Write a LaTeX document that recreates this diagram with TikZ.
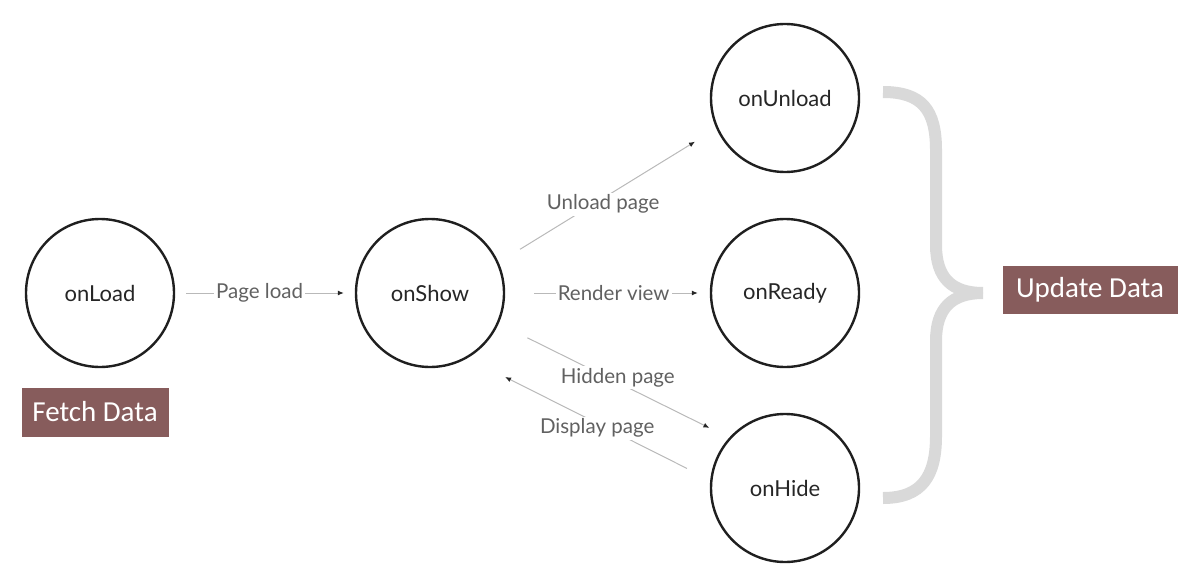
\documentclass[tikz,border=0pt]{standalone}
\usepackage{fontspec}
\setmainfont{Lato}
\newfontfamily\tagfont{Carlito}
\usepackage{tikz}
\usetikzlibrary{arrows.meta}
\usetikzlibrary{positioning}
\definecolor{tagred}{RGB}{135,92,92}
\definecolor{flowgray}{RGB}{185,185,185}
\definecolor{bracegray}{RGB}{217,217,217}

\begin{document}
\begin{tikzpicture}
    [
    x=1pt,y=-1pt,
    state/.style={circle,draw=black!88,line width=2.4pt,minimum size=148pt,inner sep=0pt,text=black!85,font=\fontsize{22}{25}\selectfont},
    tag/.style={fill=tagred,text=white,inner sep=0pt,font=\tagfont\fontsize{29}{32}\selectfont},
    flow/.style={draw=flowgray,line width=1pt,-{Latex[length=6pt,width=5pt,color=black!85]}},
    says/.style={fill=white,inner sep=2pt,text=black!62,font=\fontsize{20.5}{23}\selectfont},
    brace/.style={draw=bracegray,line width=12pt,line cap=butt},
    ]
    \useasboundingbox (0,0) rectangle (1190,575);

    \node (load) at (100,293) [state] {onLoad};
    \node (show) at (430,293) [state] {onShow};
    \node (unload) at (785,98) [state] {onUnload};
    \node (ready) at (785,293) [state] {onReady};
    \node (hide) at (785,488) [state] {onHide};

    \node (fetch) at (95,412) [tag,minimum width=147pt,minimum height=49pt] {Fetch Data};
    \node (update) at (1090,290) [tag,minimum width=175pt,minimum height=48pt] {Update Data};

    \draw [flow,shorten <=11pt,shorten >=11pt] (load.0) to node [says,pos=0.47] {Page load} (show.180);
    \draw [flow,shorten <=29pt,shorten >=12pt] (show.0) to node [says,pos=0.53] {Render view} (ready.180);
    \draw [flow,shorten <=25pt,shorten >=25pt] (show.24) to node [says,pos=0.48,yshift=-6pt] {Unload page} (unload.204);
    \draw [flow,shorten <=32pt,shorten >=22pt] (show.-24) to node [says,pos=0.517,yshift=5pt] {Hidden page} (hide.138);
    \draw [flow,shorten <=26pt,shorten >=42pt] (hide.174) to node [says,pos=0.466,yshift=-5pt] {Display page} (show.-60);

    % brace
    \draw [brace] (883,92) .. controls (922,92) and (936,110) .. (936,150) -- (936,245)
        .. controls (936,278) and (952,293) .. (983,293);
    \draw [brace] (983,293) .. controls (952,293) and (936,308) .. (936,341) -- (936,436)
        .. controls (936,476) and (922,498) .. (883,498);
  \end{tikzpicture}
\end{document}
